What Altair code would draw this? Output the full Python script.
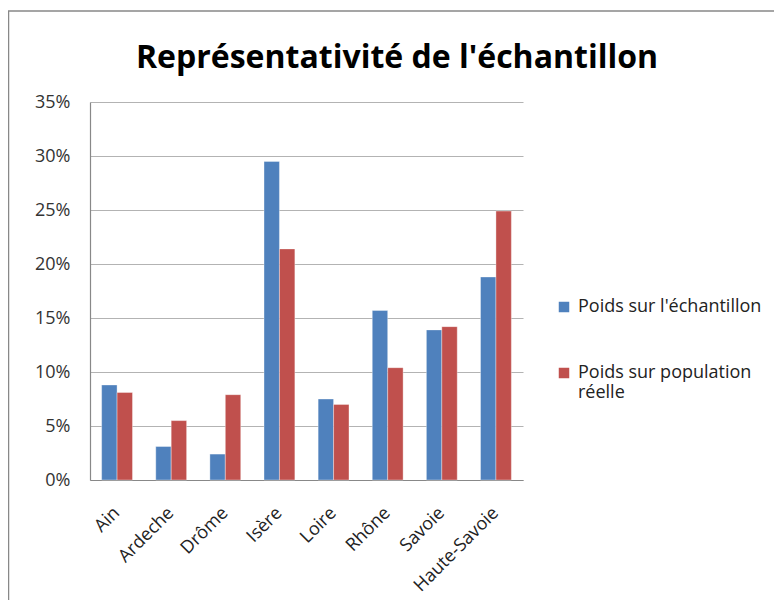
import altair as alt
import pandas as pd

categories = ["Ain", "Ardeche", "Drôme", "Isère", "Loire", "Rhône", "Savoie", "Haute-Savoie"]
series_names = ["Poids sur l'échantillon", "Poids sur population réelle"]
echantillon = [8.8, 3.1, 2.4, 29.5, 7.5, 15.7, 13.9, 18.8]
population = [8.1, 5.5, 7.9, 21.4, 7.0, 10.4, 14.2, 24.9]
colors = ["#4F81BD", "#C0504D"]
y_ticks = [0, 5, 10, 15, 20, 25, 30, 35]
title_text = "Représentativité de l'échantillon"

rows = []
for c, a, b in zip(categories, echantillon, population):
    rows.append({"cat": c, "serie": series_names[0], "val": a / 100})
    rows.append({"cat": c, "serie": series_names[1], "val": b / 100})
df = pd.DataFrame(rows)

FONT = "Open Sans"

bars = alt.Chart(df).mark_bar(stroke="white", strokeWidth=0.6, strokeOpacity=0.6).encode(
    x=alt.X("cat:N", sort=categories, title=None,
            scale=alt.Scale(paddingInner=0.43, paddingOuter=0.215),
            axis=alt.Axis(labelAngle=-45, labelAlign="right", labelBaseline="middle",
                          labelFont=FONT, labelFontSize=18, labelColor="#222",
                          labelPadding=30, ticks=False, domainColor="#888",
                          domainWidth=1.2, grid=False)),
    xOffset=alt.XOffset("serie:N", sort=series_names),
    y=alt.Y("val:Q", title=None,
            scale=alt.Scale(domain=[0, 0.35], nice=False),
            axis=alt.Axis(values=[v / 100 for v in y_ticks], format=".0%",
                          labelFont=FONT, labelFontSize=18, labelColor="#333",
                          labelPadding=20, ticks=False, domainColor="#888",
                          domainWidth=1.2, grid=True, gridColor="#b3b3b3",
                          gridWidth=1.2)),
    color=alt.Color("serie:N", sort=series_names,
                    scale=alt.Scale(domain=series_names, range=colors),
                    legend=alt.Legend(title=None, orient="none", legendX=465, legendY=196,
                                      symbolType="square", symbolSize=110,
                                      symbolStrokeWidth=0,
                                      labelFont=FONT, labelFontSize=18, labelColor="#222",
                                      labelOffset=5, rowPadding=48, labelLimit=300,
                                      labelExpr="datum.label == \"Poids sur population réelle\" ? ['Poids sur population', 'réelle'] : datum.label")),
)

frame = alt.Chart(pd.DataFrame({"k": [0]})).mark_rect(
    fill=None, stroke="#888", strokeWidth=1.5
).encode(x=alt.value(-81.5), y=alt.value(-91), x2=alt.value(800), y2=alt.value(700))

title = alt.Chart(pd.DataFrame({"t": [title_text]})).mark_text(
    font=FONT, fontSize=32, fontWeight="bold", color="black",
    align="center", baseline="alphabetic"
).encode(text="t:N", x=alt.value(307), y=alt.value(-34))

chart = alt.layer(frame, title, bars).properties(
    width=433,
    height=378,
    autosize=alt.AutoSizeParams(type="none"),
    padding={"left": 82, "top": 94, "right": 251, "bottom": 120},
).configure_view(stroke=None)

chart.save("out.html", embed_options={"renderer": "svg", "actions": False})
